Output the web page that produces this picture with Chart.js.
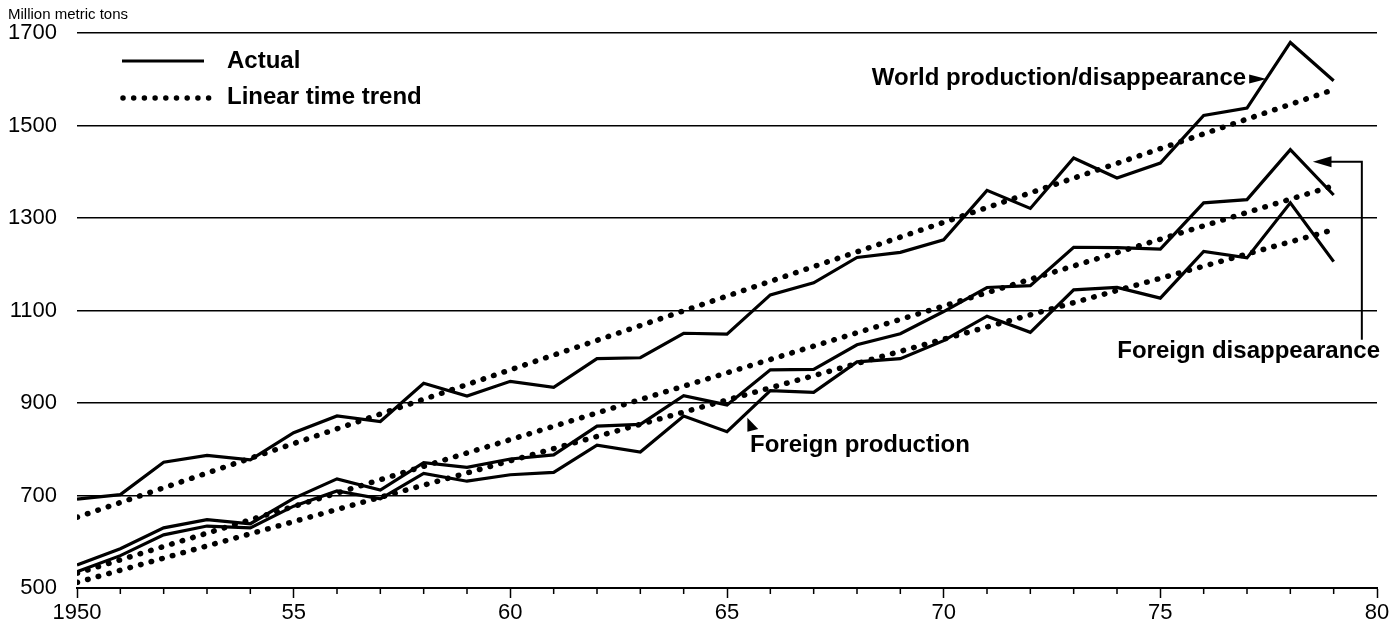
<!DOCTYPE html>
<html>
<head>
<meta charset="utf-8">
<script src="https://cdn.jsdelivr.net/npm/chart.js@4.4.1/dist/chart.umd.min.js"></script>
<style>
    html, body { margin: 0; padding: 0; background: #fff; }
</style>
</head>
<body>
<canvas id="grafico" width="1395" height="633"></canvas>
<script>
// Datos (millones de toneladas metricas)
const anios = [1950, 1951, 1952, 1953, 1954, 1955, 1956, 1957, 1958, 1959,
    1960, 1961, 1962, 1963, 1964, 1965, 1966, 1967, 1968, 1969,
    1970, 1971, 1972, 1973, 1974, 1975, 1976, 1977, 1978, 1979];
const mundo = [692, 702, 772, 787, 777, 836, 872, 860, 943, 915,
    947, 934, 996, 998, 1051, 1049, 1134, 1160, 1215, 1226,
    1253, 1360, 1321, 1430, 1387, 1419, 1522, 1538, 1680, 1597];
const dispExterior = [550, 585, 630, 648, 639, 694, 736, 712, 771, 761,
    779, 788, 850, 854, 916, 896, 972, 973, 1026, 1050,
    1098, 1150, 1154, 1237, 1236, 1233, 1333, 1340, 1448, 1350];
const prodExterior = [535, 570, 615, 634, 630, 677, 710, 693, 748, 731,
    745, 750, 809, 794, 872, 838, 927, 923, 989, 996,
    1035, 1088, 1053, 1145, 1150, 1127, 1228, 1214, 1333, 1206];

// Tendencias lineales: extremos
const aniosTendencia = [1950, 1979];
const tendMundo = [653, 1578];
const tendDisp = [532, 1370];
const tendProd = [512, 1275];

const marcasY = [500, 700, 900, 1100, 1300, 1500, 1700];
const etiquetasX = ['1950', '55', '60', '65', '70', '75', '80'];

const fuente = '"Liberation Sans", Arial, Helvetica, sans-serif';

const puntos = (xs, ys) => xs.map((x, i) => ({ x: x, y: ys[i] }));

const serieReal = (label, valores) => ({
    label: label,
    data: puntos(anios, valores),
    borderColor: '#000',
    borderWidth: 3.2,
    pointRadius: 0,
    tension: 0,
    borderJoinStyle: 'miter'
});

const serieTendencia = (label, valores) => ({
    label: label,
    data: puntos(aniosTendencia, valores),
    borderColor: '#000',
    borderWidth: 5.5,
    borderDash: [0.5, 10.5],
    borderCapStyle: 'round',
    pointRadius: 0
});

// Leyenda, marcas menores y rotulos con flechas
const anotaciones = {
    id: 'anotaciones',
    afterDraw(chart) {
        const ctx = chart.ctx;
        const x = chart.scales.x;
        const y = chart.scales.y;
        const px = v => x.getPixelForValue(v);
        const py = v => y.getPixelForValue(v);
        const area = chart.chartArea;

        ctx.save();
        ctx.fillStyle = '#000';
        ctx.strokeStyle = '#000';

        // marcas menores del eje x
        ctx.lineWidth = 1.5;
        anios.forEach(a => {
            if (a % 5 === 0) return;
            ctx.beginPath();
            ctx.moveTo(px(a), area.bottom);
            ctx.lineTo(px(a), area.bottom + 6);
            ctx.stroke();
        });

        // unidad
        ctx.font = '15px ' + fuente;
        ctx.textBaseline = 'middle';
        ctx.textAlign = 'left';
        ctx.fillText('Million metric tons', 8, 15);

        // leyenda
        const lx = area.left + 45;
        ctx.lineWidth = 3.2;
        ctx.beginPath();
        ctx.moveTo(lx, 61);
        ctx.lineTo(lx + 82, 61);
        ctx.stroke();
        for (let i = 0; i < 9; i++) {
            ctx.beginPath();
            ctx.arc(lx + 1 + i * 10.7, 98, 2.75, 0, Math.PI * 2);
            ctx.fill();
        }
        ctx.font = 'bold 24px ' + fuente;
        ctx.fillText('Actual', lx + 105, 61);
        ctx.fillText('Linear time trend', lx + 105, 97);

        // World production/disappearance
        const wy = py(1601);
        ctx.textAlign = 'right';
        ctx.fillText('World production/disappearance', px(1976.98), wy - 1);
        ctx.beginPath();
        ctx.moveTo(px(1977.45), wy);
        ctx.lineTo(px(1977.05), wy - 4.5);
        ctx.lineTo(px(1977.05), wy + 4.5);
        ctx.closePath();
        ctx.fill();

        // Foreign disappearance
        ctx.fillText('Foreign disappearance', px(1980.07), py(1009) - 1);
        const vx = px(1979.65);
        const hy = py(1422);
        ctx.lineWidth = 2;
        ctx.beginPath();
        ctx.moveTo(vx, py(1037));
        ctx.lineTo(vx, hy);
        ctx.lineTo(px(1978.8), hy);
        ctx.stroke();
        ctx.beginPath();
        ctx.moveTo(px(1978.52), hy);
        ctx.lineTo(px(1978.95), hy - 5.5);
        ctx.lineTo(px(1978.95), hy + 5.5);
        ctx.closePath();
        ctx.fill();

        // Foreign production
        ctx.textAlign = 'left';
        ctx.fillText('Foreign production', px(1965.53), py(806) - 1);
        ctx.beginPath();
        ctx.moveTo(px(1965.47), py(868));
        ctx.lineTo(px(1965.47), py(838));
        ctx.lineTo(px(1965.72), py(844));
        ctx.closePath();
        ctx.fill();

        ctx.restore();
    }
};

new Chart(document.getElementById('grafico'), {
    type: 'line',
    data: {
        datasets: [
            serieReal('World production/disappearance', mundo),
            serieReal('Foreign disappearance', dispExterior),
            serieReal('Foreign production', prodExterior),
            serieTendencia('Trend world', tendMundo),
            serieTendencia('Trend foreign disappearance', tendDisp),
            serieTendencia('Trend foreign production', tendProd)
        ]
    },
    options: {
        responsive: false,
        animation: false,
        layout: { padding: { left: 0, right: 18, top: 28, bottom: 0 } },
        plugins: {
            legend: { display: false },
            tooltip: { enabled: false }
        },
        scales: {
            x: {
                type: 'linear',
                min: 1950,
                max: 1980,
                afterFit: s => { s.height = 45; },
                ticks: {
                    stepSize: 1,
                    autoSkip: false,
                    maxRotation: 0,
                    padding: 2,
                    color: '#000',
                    font: { family: fuente, size: 22 },
                    callback: v => (v % 5 === 0 ? etiquetasX[(v - 1950) / 5] : '')
                },
                grid: {
                    drawOnChartArea: false,
                    tickLength: 10,
                    tickWidth: 1.5,
                    tickColor: c => (c.tick && c.tick.value % 5 === 0 ? '#000' : 'rgba(0,0,0,0)')
                },
                border: { display: true, color: '#000', width: 2 }
            },
            y: {
                min: 500,
                max: 1700,
                afterFit: s => { s.width = 77; },
                afterBuildTicks: s => { s.ticks = marcasY.map(v => ({ value: v })); },
                ticks: {
                    padding: 20,
                    color: '#000',
                    font: { family: fuente, size: 22 },
                    callback: v => String(v)
                },
                grid: {
                    color: '#000',
                    lineWidth: 1.5,
                    drawTicks: false
                },
                border: { display: false }
            }
        }
    },
    plugins: [anotaciones]
});
</script>
</body>
</html>
